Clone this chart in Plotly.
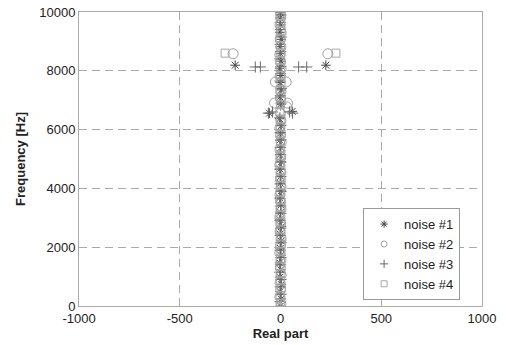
import plotly.graph_objects as go

# noise #1 (stars)
n1_freq = [0, 240, 490, 730, 980, 1230, 1470, 1720, 1960, 2210,
           2450, 2700, 2940, 3190, 3430, 3680, 3920, 4170, 4410, 4660,
           4900, 5150, 5390, 5640, 5880, 6130, 6370, 6560, 6620, 6860,
           7110, 7350, 7600, 7840, 8090, 8330, 8580, 8820, 9070, 9310,
           9560, 9800, 9990, 8190, 8190]
n1_real = [0, 3, -2, 4, -3, 1, -4, 2, -1, 3,
           -2, 4, -3, 0, 2, -4, 3, -1, 1, -3,
           4, -2, 2, -3, 0, 3, -4, -55, 58, 2,
           -3, 4, -1, 2, -4, 3, 0, -2, 4, -3,
           1, -2, 0, -225, 225]

# noise #2 (circles)
n2_freq = [80, 300, 560, 790, 1050, 1300, 1540, 1800, 2050, 2290,
           2550, 2800, 3040, 3300, 3550, 3790, 4050, 4300, 4540, 4800,
           5050, 5290, 5550, 5800, 6040, 6300, 6550, 6780, 6900, 6900,
           7050, 7300, 7620, 7620, 7800, 8050, 8300, 8550, 8800, 9050,
           9300, 9550, 9800, 9980, 8580, 8580]
n2_real = [2, -3, 1, -2, 3, -1, 2, -3, 0, 3,
           -2, 1, -3, 2, 0, -2, 3, -1, 2, -3,
           1, -2, 3, 0, -3, 2, -1, 30, -30, 35,
           0, 2, -25, 28, -2, 3, 0, -3, 2, -1,
           3, -2, 1, 0, -235, 235]

# noise #3 (plus)
n3_freq = [150, 400, 650, 900, 1150, 1400, 1650, 1900, 2150, 2400,
           2650, 2900, 3150, 3400, 3650, 3900, 4150, 4400, 4650, 4900,
           5150, 5400, 5650, 5900, 6150, 6400, 6560, 6560, 6600, 6600,
           6900, 7150, 7400, 7650, 7900, 8150, 8400, 8650, 8900, 9150,
           9400, 9650, 9900, 8130, 8130, 8130, 8130]
n3_real = [-2, 3, -1, 2, -3, 0, 2, -2, 3, -1,
           1, -3, 2, 0, -2, 3, -1, 2, -3, 1,
           0, -2, 3, -1, 2, -3, -60, 60, -40, 45,
           2, -1, 3, -2, 0, 2, -3, 1, -2, 3,
           0, -1, 2, -125, -100, 90, 130]

# noise #4 (squares)
n4_freq = [30, 360, 620, 860, 1110, 1360, 1600, 1860, 2110, 2350,
           2610, 2860, 3100, 3360, 3610, 3850, 4110, 4360, 4600, 4860,
           5110, 5350, 5610, 5860, 6100, 6360, 6610, 6850, 7110, 7360,
           7610, 7850, 8110, 8360, 8610, 8860, 9110, 9360, 9610, 9860,
           8600, 8600]
n4_real = [1, -2, 3, -1, 2, -3, 0, 2, -2, 3,
           -1, 2, -3, 1, 0, -2, 3, -1, 2, -3,
           1, -2, 0, 3, -1, 2, -3, 0, 2, -2,
           3, -1, 1, -3, 2, 0, -2, 3, -1, 2,
           -275, 275]

x_ticks = [-1000, -500, 0, 500, 1000]
y_ticks = [0, 2000, 4000, 6000, 8000, 10000]

series = [
    ("noise #1", n1_real, n1_freq, "asterisk-open", 8, "#444444"),
    ("noise #2", n2_real, n2_freq, "circle-open", 10, "#a0a0a0"),
    ("noise #3", n3_real, n3_freq, "cross-thin-open", 8, "#6a6a6a"),
    ("noise #4", n4_real, n4_freq, "square-open", 8, "#a8a8a8"),
]

fig = go.Figure()
for name, xs, ys, sym, size, col in series:
    fig.add_trace(go.Scatter(
        x=xs, y=ys, mode="markers", name=name, showlegend=False,
        marker=dict(symbol=sym, size=size, color=col,
                    line=dict(color=col, width=1)),
    ))
# legend entries with small markers, as in the reference
for name, xs, ys, sym, size, col in series:
    fig.add_trace(go.Scatter(
        x=[None], y=[None], mode="markers", name=name, showlegend=True,
        marker=dict(symbol=sym, size=6, color=col,
                    line=dict(color=col, width=1)),
    ))

font = "Liberation Sans, Arial, Helvetica, sans-serif"
fig.update_layout(
    width=506, height=345,
    margin=dict(l=79, r=24, t=12, b=39, autoexpand=False),
    paper_bgcolor="white", plot_bgcolor="white",
    font=dict(family=font, size=13, color="#222222"),
    showlegend=True,
    legend=dict(x=0.705, y=0.02, xanchor="left", yanchor="bottom",
                bgcolor="white", bordercolor="#999999", borderwidth=1,
                font=dict(size=13), itemwidth=30, tracegroupgap=0),
    xaxis=dict(range=[-1000, 1000], tickvals=x_ticks, ticktext=[str(v) for v in x_ticks],
               showgrid=True, gridcolor="#aaaaaa", griddash="8px,5px", gridwidth=1,
               zeroline=False, showline=True, linecolor="#aaaaaa", linewidth=1,
               mirror=True, ticks="inside", ticklen=5, tickcolor="#aaaaaa",
               automargin=False,
               title=dict(text="<b>Real part</b>", standoff=2, font=dict(size=13))),
    yaxis=dict(range=[0, 10000], tickvals=y_ticks, ticktext=[str(v) for v in y_ticks],
               showgrid=True, gridcolor="#aaaaaa", griddash="8px,5px", gridwidth=1,
               zeroline=False, showline=True, linecolor="#aaaaaa", linewidth=1,
               mirror=True, ticks="inside", ticklen=5, tickcolor="#aaaaaa",
               automargin=False,
               title=dict(text="<b>Frequency [Hz]</b>", standoff=10, font=dict(size=13))),
)

fig.write_html("out.html", config={"displayModeBar": False},
               post_script="document.body.style.margin='0';document.body.style.overflow='hidden';")
